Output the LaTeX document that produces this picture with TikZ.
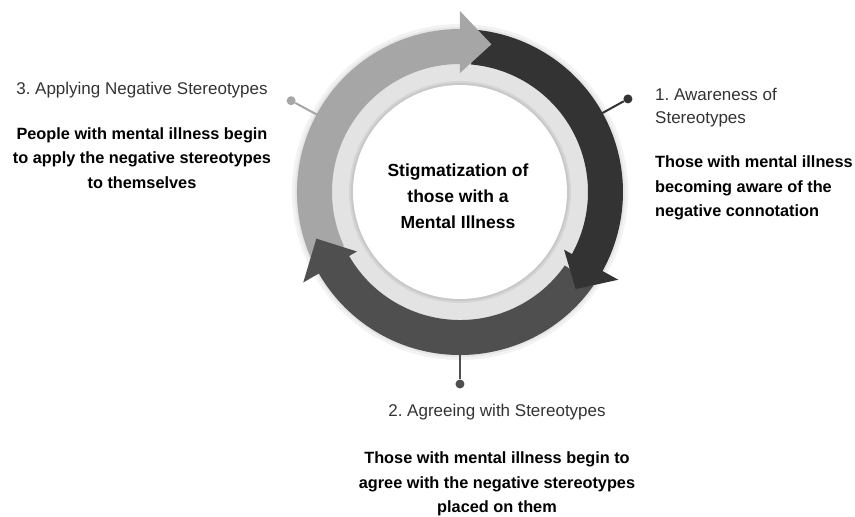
\documentclass[tikz,border=0pt]{standalone}
\usepackage{fontspec}
\setmainfont{Liberation Sans}
\definecolor{lightarc}{HTML}{A6A6A6}
\definecolor{darkarc}{HTML}{333333}
\definecolor{midarc}{HTML}{4F4F4F}
\definecolor{ringgray}{HTML}{E3E3E3}
\definecolor{headtext}{HTML}{333333}
\frenchspacing

\begin{document}
\begin{tikzpicture}
        [x=1pt,y=1pt,every node/.style={inner sep=0,font=\fontsize{17}{23.5}\selectfont},
         stemdot/.style={circle,minimum size=9pt},
         title/.style={text=headtext},
         desc/.style={font=\fontsize{16.3}{24.5}\selectfont\bfseries,align=center}]

        \useasboundingbox (-460,-325) rectangle (395,192);

        \fill[black,opacity=0.05] (0,0) circle (168);
        \fill[black,opacity=0.05] (0,0) circle (165);

        \coordinate (s1) at (29:150);
        \coordinate (s2) at (270:150);
        \coordinate (s3) at (151.6:150);
        \node[stemdot,fill=darkarc] (d1) at (29:192) {};
        \node[stemdot,fill=midarc] (d2) at (270:192) {};
        \node[stemdot,fill=lightarc] (d3) at (151.6:192) {};
        \draw[darkarc,line width=2pt] (s1) -- (d1);
        \draw[midarc,line width=2pt] (s2) -- (d2);
        \draw[lightarc,line width=2pt] (s3) -- (d3);

        \fill[ringgray] (0,0) circle (140);

        \foreach \col/\s/\b in {lightarc/205/90, darkarc/85/-29, midarc/-35/-150}
          \fill[\col] (\s:163) arc[start angle=\s, end angle=\b-1, radius=163]
            -- (\b-1:128) arc[start angle=\b-1, end angle=\s, radius=128] -- cycle;
        \foreach \col/\b/\t in {lightarc/90/78, darkarc/-29/-40, midarc/-150/-162}
          \fill[\col] (\b:181) -- (\t:151) -- (\b:119) -- cycle;

        \fill[black,opacity=0.06] (0,0) circle (111);
        \fill[black,opacity=0.06] (0,0) circle (109);
        \fill[white] (0,0) circle (107);

        \node[desc,font=\fontsize{17.5}{26}\selectfont\bfseries] (c) at (-2,-4) {Stigmatization of\\those with a\\Mental Illness};

        \node[title,anchor=west,align=left] (t1) at (195,84.5) {1. Awareness of\\Stereotypes};
        \node[desc,anchor=west,align=left] (b1) at (195,4) {Those with mental illness\\becoming aware of the\\negative connotation};
        \node[title] (t2) at (37,-220) {2. Agreeing with Stereotypes};
        \node[desc] (b2) at (37,-292) {Those with mental illness begin to\\agree with the negative stereotypes\\placed on them};
        \node[title] (t3) at (-318,102) {3. Applying Negative Stereotypes};
        \node[desc] (b3) at (-318,34) {People with mental illness begin\\to apply the negative stereotypes\\to themselves};
      \end{tikzpicture}
\end{document}
